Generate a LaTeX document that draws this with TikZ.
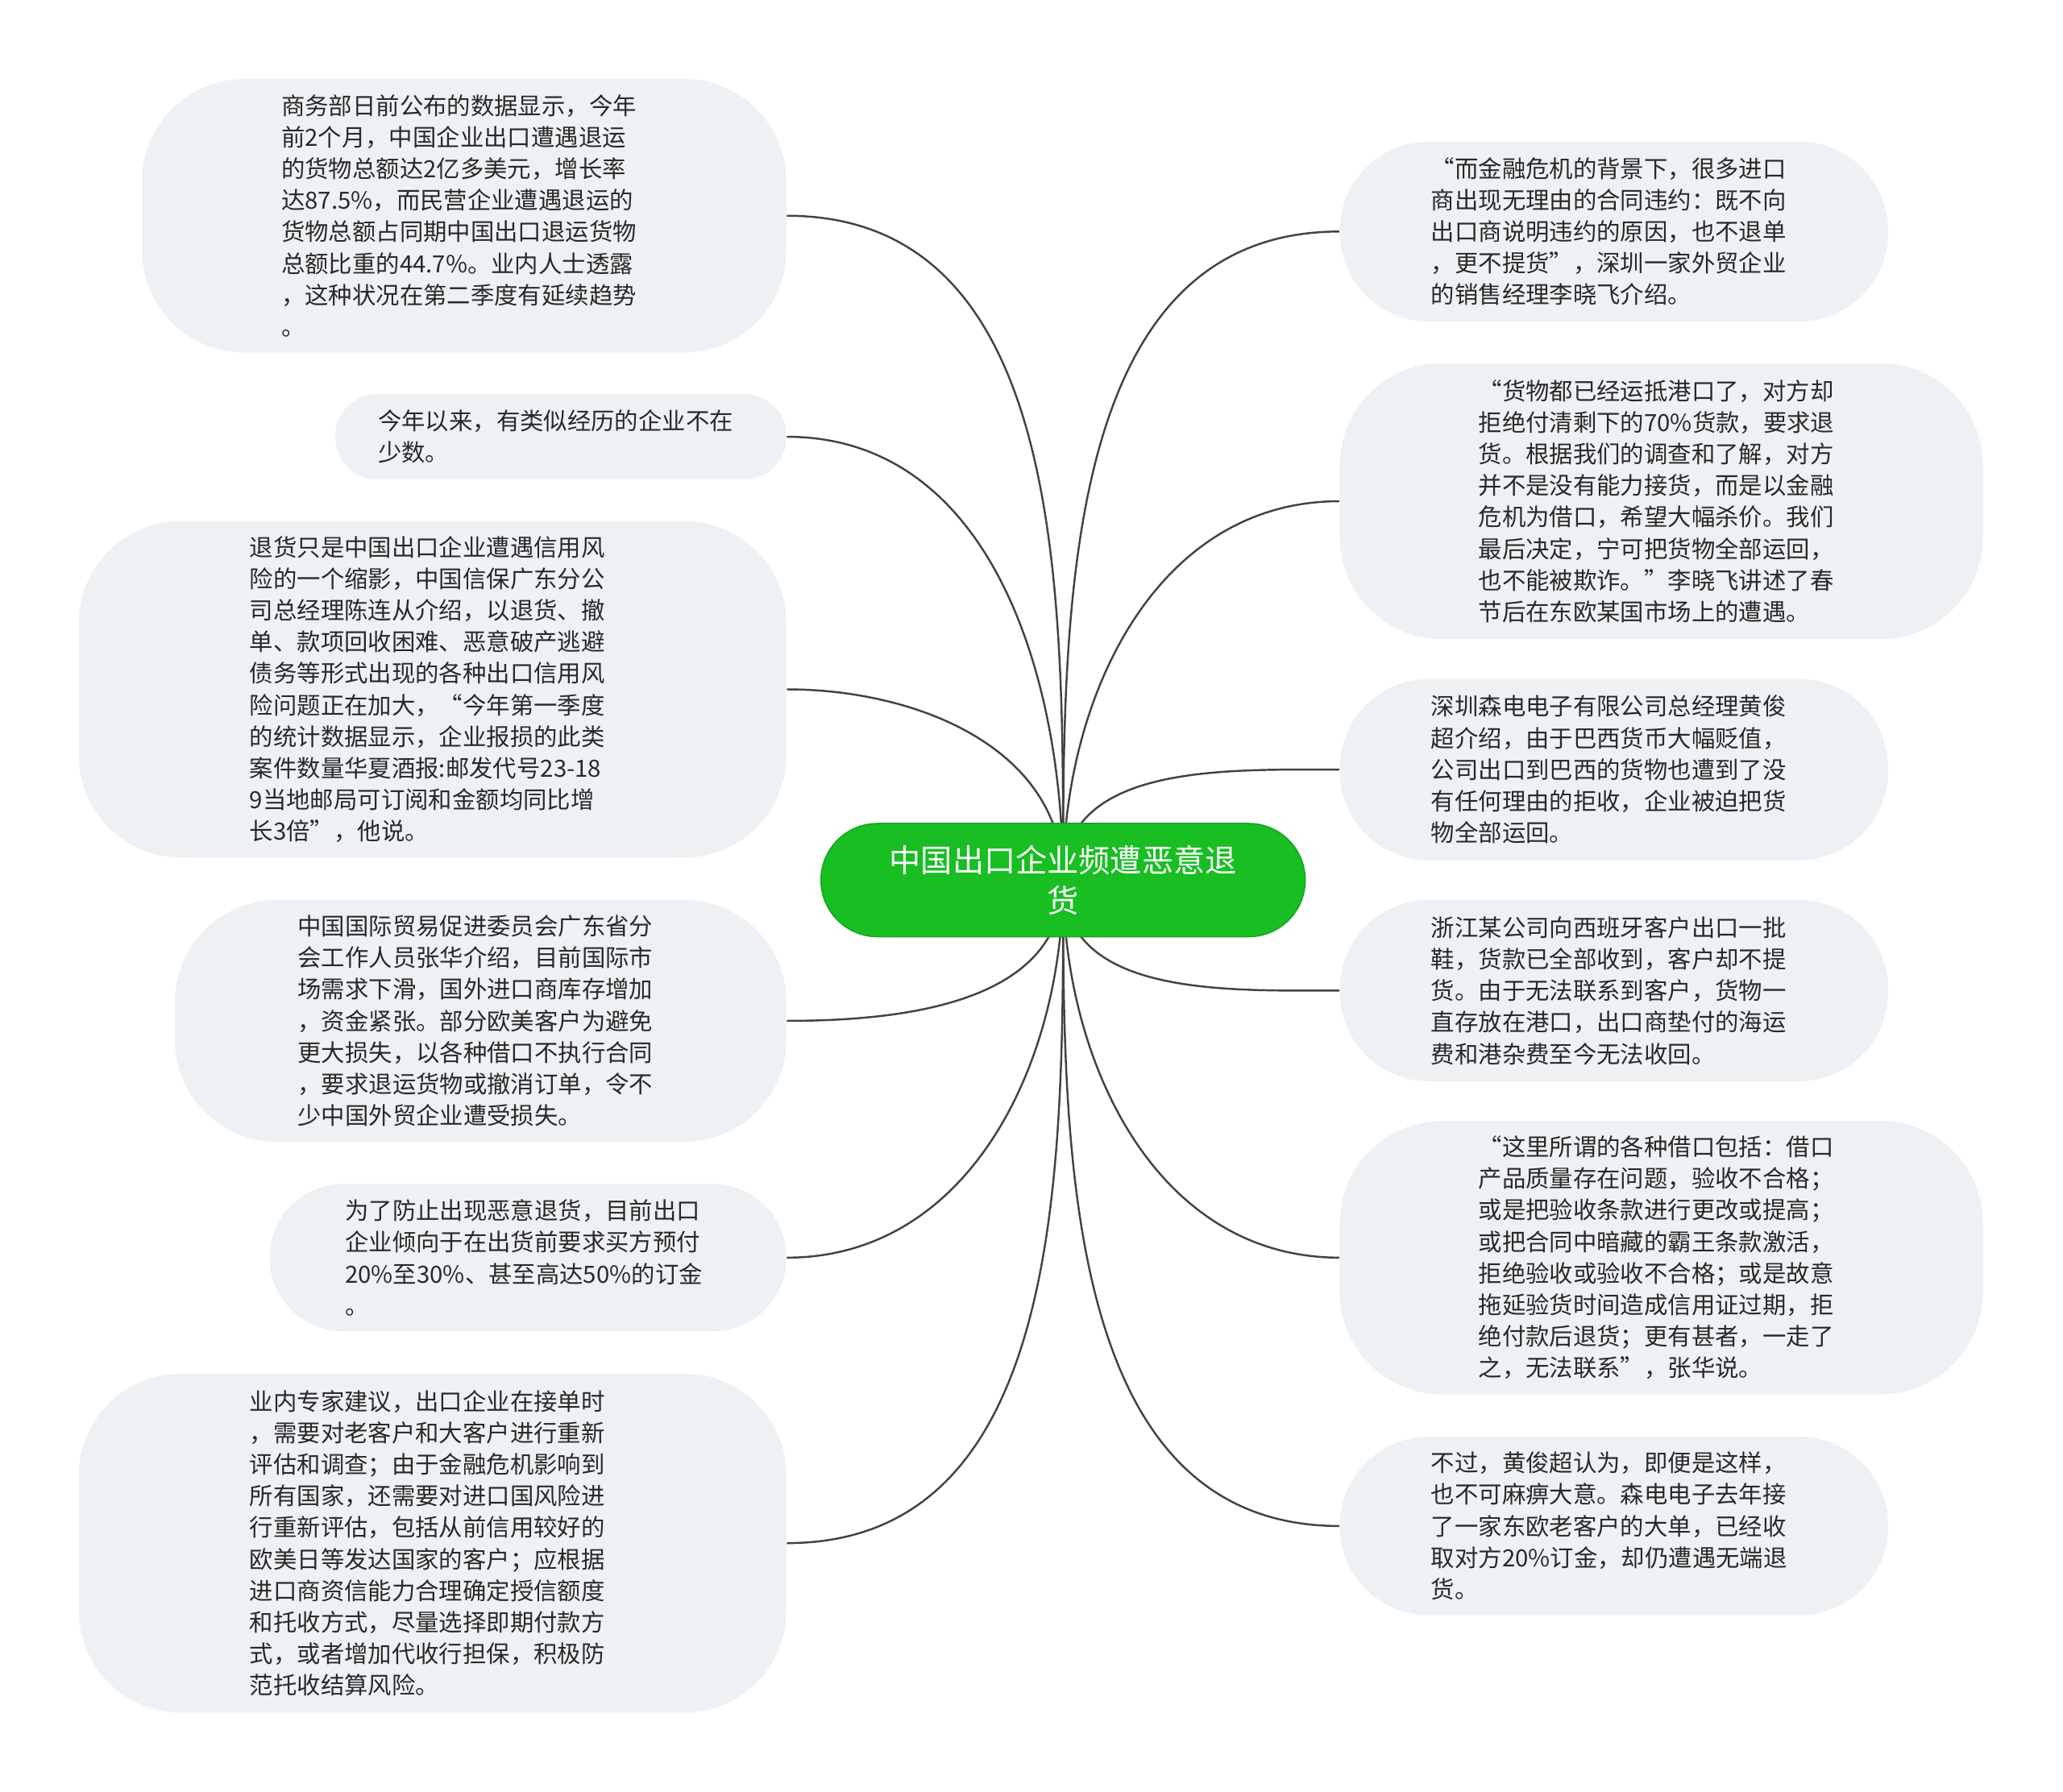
\documentclass[tikz,border=0pt]{standalone}
\usepackage{fontspec}
\setmainfont{Noto Sans CJK SC}
\usetikzlibrary{backgrounds}
\definecolor{bubblegray}{RGB}{238,241,244}
\definecolor{rootgreen}{RGB}{24,190,34}
\definecolor{rootline}{RGB}{20,168,30}
\definecolor{textgray}{RGB}{40,40,40}
\definecolor{linkgray}{RGB}{66,66,66}

\begin{document}
\begin{tikzpicture}[x=1pt,y=1pt,
    bubble/.style={fill=bubblegray,rounded corners=78pt,inner sep=0pt,text width=278pt,align=left,text=textgray,font=\fontsize{18pt}{24pt}\selectfont},
    root/.style={fill=rootgreen,draw=rootline,line width=1pt,rounded corners=43pt,minimum width=368pt,minimum height=86pt,inner sep=0pt,align=center,text=white,font=\fontsize{24pt}{31pt}\selectfont},
    link/.style={draw=linkgray,line width=1.5pt}]
    \useasboundingbox (0,0) rectangle (1568,-1362);
    \node[root] (ct) at (808,-669) {中国出口企业频遭恶意退\\货};

    \node[bubble,anchor=east,minimum width=490pt,minimum height=208pt] (L1) at (598,-164) {商务部日前公布的数据显示，今年\\前2个月，中国企业出口遭遇退运\\的货物总额达2亿多美元，增长率\\达87.5\%，而民营企业遭遇退运的\\货物总额占同期中国出口退运货物\\总额比重的44.7\%。业内人士透露\\，这种状况在第二季度有延续趋势\\。};
    \node[bubble,anchor=east,minimum width=343pt,minimum height=65pt,rounded corners=32pt] (L2) at (598,-332) {今年以来，有类似经历的企业不在\\少数。};
    \node[bubble,anchor=east,minimum width=538pt,minimum height=256pt] (L3) at (598,-524) {退货只是中国出口企业遭遇信用风\\险的一个缩影，中国信保广东分公\\司总经理陈连从介绍，以退货、撤\\单、款项回收困难、恶意破产逃避\\债务等形式出现的各种出口信用风\\险问题正在加大，“今年第一季度\\的统计数据显示，企业报损的此类\\案件数量华夏酒报:邮发代号23-18\\9当地邮局可订阅和金额均同比增\\长3倍”，他说。};
    \node[bubble,anchor=east,minimum width=465pt,minimum height=184pt] (L4) at (598,-776) {中国国际贸易促进委员会广东省分\\会工作人员张华介绍，目前国际市\\场需求下滑，国外进口商库存增加\\，资金紧张。部分欧美客户为避免\\更大损失，以各种借口不执行合同\\，要求退运货物或撤消订单，令不\\少中国外贸企业遭受损失。};
    \node[bubble,anchor=east,minimum width=393pt,minimum height=112pt,rounded corners=56pt] (L5) at (598,-956) {为了防止出现恶意退货，目前出口\\企业倾向于在出货前要求买方预付\\20\%至30\%、甚至高达50\%的订金\\。};
    \node[bubble,anchor=east,minimum width=538pt,minimum height=258pt] (L6) at (598,-1173) {业内专家建议，出口企业在接单时\\，需要对老客户和大客户进行重新\\评估和调查；由于金融危机影响到\\所有国家，还需要对进口国风险进\\行重新评估，包括从前信用较好的\\欧美日等发达国家的客户；应根据\\进口商资信能力合理确定授信额度\\和托收方式，尽量选择即期付款方\\式，或者增加代收行担保，积极防\\范托收结算风险。};

    \node[bubble,anchor=west,minimum width=417pt,minimum height=137pt,rounded corners=68pt] (R1) at (1018,-176) {“而金融危机的背景下，很多进口\\商出现无理由的合同违约：既不向\\出口商说明违约的原因，也不退单\\，更不提货”，深圳一家外贸企业\\的销售经理李晓飞介绍。};
    \node[bubble,anchor=west,minimum width=489pt,minimum height=210pt] (R2) at (1018,-381) {“货物都已经运抵港口了，对方却\\拒绝付清剩下的70\%货款，要求退\\货。根据我们的调查和了解，对方\\并不是没有能力接货，而是以金融\\危机为借口，希望大幅杀价。我们\\最后决定，宁可把货物全部运回，\\也不能被欺诈。”李晓飞讲述了春\\节后在东欧某国市场上的遭遇。};
    \node[bubble,anchor=west,minimum width=417pt,minimum height=138pt,rounded corners=68pt] (R3) at (1018,-585) {深圳森电电子有限公司总经理黄俊\\超介绍，由于巴西货币大幅贬值，\\公司出口到巴西的货物也遭到了没\\有任何理由的拒收，企业被迫把货\\物全部运回。};
    \node[bubble,anchor=west,minimum width=417pt,minimum height=138pt,rounded corners=68pt] (R4) at (1018,-753) {浙江某公司向西班牙客户出口一批\\鞋，货款已全部收到，客户却不提\\货。由于无法联系到客户，货物一\\直存放在港口，出口商垫付的海运\\费和港杂费至今无法收回。};
    \node[bubble,anchor=west,minimum width=489pt,minimum height=208pt] (R5) at (1018,-956) {“这里所谓的各种借口包括：借口\\产品质量存在问题，验收不合格；\\或是把验收条款进行更改或提高；\\或把合同中暗藏的霸王条款激活，\\拒绝验收或验收不合格；或是故意\\拖延验货时间造成信用证过期，拒\\绝付款后退货；更有甚者，一走了\\之，无法联系”，张华说。};
    \node[bubble,anchor=west,minimum width=417pt,minimum height=136pt,rounded corners=68pt] (R6) at (1018,-1160) {不过，黄俊超认为，即便是这样，\\也不可麻痹大意。森电电子去年接\\了一家东欧老客户的大单，已经收\\取对方20\%订金，却仍遭遇无端退\\货。};

    \begin{scope}[on background layer]
        \foreach \n in {L1,L2,L3} \draw[link] (ct.center) to[out=90,in=0] (\n.east);
        \foreach \n in {L4,L5,L6} \draw[link] (ct.center) to[out=-90,in=0] (\n.east);
        \foreach \n in {R1,R2,R3} \draw[link] (ct.center) to[out=90,in=180] (\n.west);
        \foreach \n in {R4,R5,R6} \draw[link] (ct.center) to[out=-90,in=180] (\n.west);
    \end{scope}
\end{tikzpicture}
\end{document}
